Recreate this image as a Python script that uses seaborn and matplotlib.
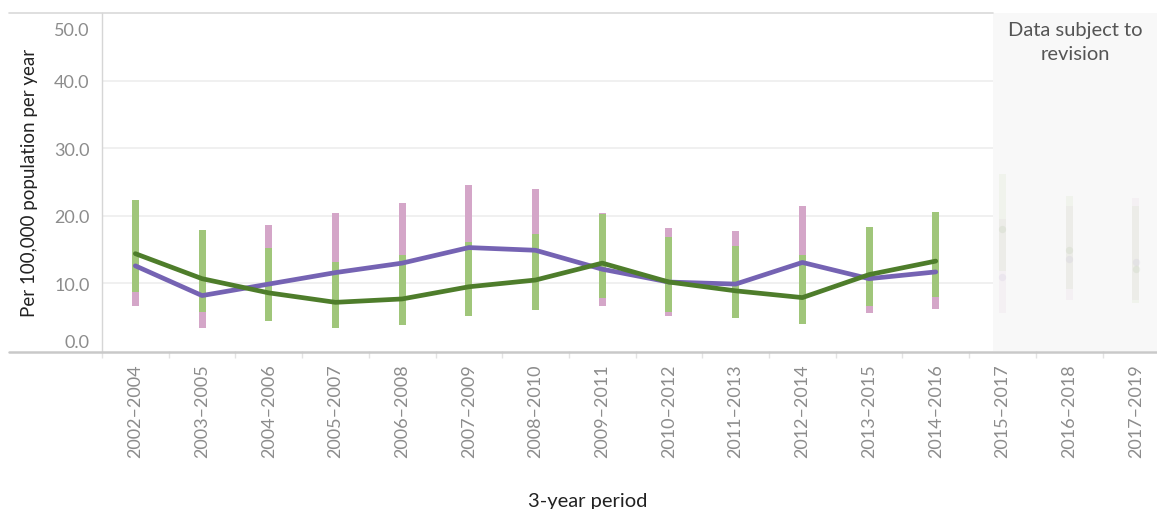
import numpy as np
import pandas as pd
import matplotlib
matplotlib.use("Agg")
import matplotlib.pyplot as plt
import matplotlib.transforms as mtransforms
from matplotlib.lines import Line2D
import seaborn as sns

periods = ["2002–2004", "2003–2005", "2004–2006", "2005–2007", "2006–2008",
           "2007–2009", "2008–2010", "2009–2011", "2010–2012", "2011–2013",
           "2012–2014", "2013–2015", "2014–2016", "2015–2017", "2016–2018",
           "2017–2019"]

purple_mean = [12.6, 8.2, 9.9, 11.6, 13.0, 15.3, 14.9, 12.1, 10.2, 9.9,
               13.1, 10.7, 11.7, 11.0, 13.6, 13.1]
purple_lo = [6.6, 3.4, 5.0, 5.5, 6.5, 8.5, 8.3, 6.6, 5.2, 5.2,
             7.0, 5.6, 6.2, 5.6, 7.5, 7.5]
purple_hi = [19.5, 14.5, 18.7, 20.4, 21.9, 24.6, 24.0, 20.4, 18.2, 17.8,
             21.4, 17.5, 19.0, 19.5, 21.5, 22.7]

green_mean = [14.4, 10.7, 8.6, 7.2, 7.7, 9.5, 10.5, 13.0, 10.2, 8.9,
              7.9, 11.3, 13.3, 18.0, 14.9, 12.1]
green_lo = [8.7, 5.7, 4.5, 3.4, 3.9, 5.2, 6.1, 7.9, 5.7, 4.9,
            4.0, 6.6, 8.0, 11.9, 9.2, 7.1]
green_hi = [22.4, 17.9, 15.2, 13.2, 14.2, 16.1, 17.3, 20.2, 16.9, 15.5,
            14.2, 18.4, 20.6, 26.2, 22.9, 21.5]

y_ticks = [0, 10, 20, 30, 40, 50]
n_final = 13  # periods before the "subject to revision" zone

FONT = ["Lato", "DejaVu Sans"]
sns.set_theme(style="white")
plt.rcParams["font.family"] = FONT

PURPLE = "#7563b3"
PINK = "#d4a6c8"
DGREEN = "#4e7d2b"
LGREEN = "#a0c67a"
GREY_TXT = "#8c8c8c"

W, H = 1157, 510
fig = plt.figure(figsize=(W / 100, H / 100), dpi=100)
ax_left, ax_right = 102 / W, 1.0
ax_bottom, ax_top = 1 - 352 / H, 1 - 14 / H
ax = fig.add_axes([ax_left, ax_bottom, ax_right - ax_left, ax_top - ax_bottom])

x = np.arange(len(periods))
x_hi = -0.5 + (W - 102) / 66.7

df = pd.DataFrame({
    "period": x,
    "purple": purple_mean, "plo": purple_lo, "phi": purple_hi,
    "green": green_mean, "glo": green_lo, "ghi": green_hi,
})
final = df.iloc[:n_final]
prov = df.iloc[n_final:]

# grid
for v in y_ticks[1:-1]:
    ax.axhline(v, color="#eeeeee", lw=1.2, zorder=0)

# revision zone
rev_start = 12.86
ax.axvspan(rev_start, x_hi, color="#f8f8f8", zorder=0.5, lw=0)
ax.text((rev_start + x_hi) / 2, 48.8, "Data subject to\nrevision",
        ha="center", va="top", fontsize=14.5, color="#555555",
        linespacing=1.5, zorder=5)

bw = 0.105
# CI bars (final)
ax.bar(final["period"], final["phi"] - final["plo"], bottom=final["plo"],
       width=bw, color=PINK, lw=0, zorder=2)
ax.bar(final["period"], final["ghi"] - final["glo"], bottom=final["glo"],
       width=bw, color=LGREEN, lw=0, zorder=3)
# CI bars (provisional, faded)
fa = 0.09
ax.bar(prov["period"], prov["phi"] - prov["plo"], bottom=prov["plo"],
       width=bw, color=PINK, alpha=fa, lw=0, zorder=2)
ax.bar(prov["period"], prov["ghi"] - prov["glo"], bottom=prov["glo"],
       width=bw, color=LGREEN, alpha=fa, lw=0, zorder=3)

sns.lineplot(data=final, x="period", y="purple", color=PURPLE, lw=3.4,
             solid_capstyle="round", solid_joinstyle="round", ax=ax, zorder=4)
sns.lineplot(data=final, x="period", y="green", color=DGREEN, lw=3.4,
             solid_capstyle="round", solid_joinstyle="round", ax=ax, zorder=5)
ax.scatter(prov["period"], prov["purple"], s=28, color=PURPLE, alpha=0.07,
           lw=0, zorder=4)
ax.scatter(prov["period"], prov["green"], s=28, color=DGREEN, alpha=0.07,
           lw=0, zorder=5)

# axes styling
for s in ["top", "right", "bottom"]:
    ax.spines[s].set_visible(False)
ax.spines["left"].set_color("#d6d6d6")
ax.spines["left"].set_linewidth(1.0)

ax.set_yticks(y_ticks)
ax.set_yticklabels([f"{v:.1f}" for v in y_ticks])
ax.tick_params(axis="y", length=0, pad=9, labelsize=13, labelcolor=GREY_TXT)
ylabels = ax.get_yticklabels()
ylabels[0].set_transform(ylabels[0].get_transform() +
                         mtransforms.ScaledTranslation(0, 10.5 / 100, fig.dpi_scale_trans))
ylabels[-1].set_transform(ylabels[-1].get_transform() +
                          mtransforms.ScaledTranslation(0, -15 / 100, fig.dpi_scale_trans))

ax.set_xticks(x)
ax.set_xticklabels(periods, rotation=90)
ax.set_xticks(np.arange(len(periods) + 1) - 0.5, minor=True)
ax.tick_params(axis="x", which="major", length=0, pad=9, labelsize=13,
               labelcolor=GREY_TXT)
ax.tick_params(axis="x", which="minor", length=5, width=1, color="#e3e3e3",
               bottom=True, direction="out")
ax.set_xlabel("")
ax.set_ylabel("Per 100,000 population per year", fontsize=13.5, color="#222222",
              labelpad=10)
ax.yaxis.set_label_coords(-(102 - 38) / (W * (ax_right - ax_left)), 0.5)

# limits last (seaborn may autoscale)
ax.set_xlim(-0.5, x_hi)
ax.set_ylim(0, 50)

fig.text(588 / W, 1 - 502 / H, "3-year period", ha="center", va="center",
         fontsize=14.5, color="#222222")

# frame lines (top and bottom rules)
fig.add_artist(Line2D([9 / W, 993 / W], [1 - 14 / H] * 2, color="#d9d9d9",
                      lw=1.2, transform=fig.transFigure))
fig.add_artist(Line2D([9 / W, 1.0], [1 - 352.5 / H] * 2, color="#c9c9c9",
                      lw=1.8, transform=fig.transFigure))

fig.savefig("out.png", dpi=100, facecolor="white")
